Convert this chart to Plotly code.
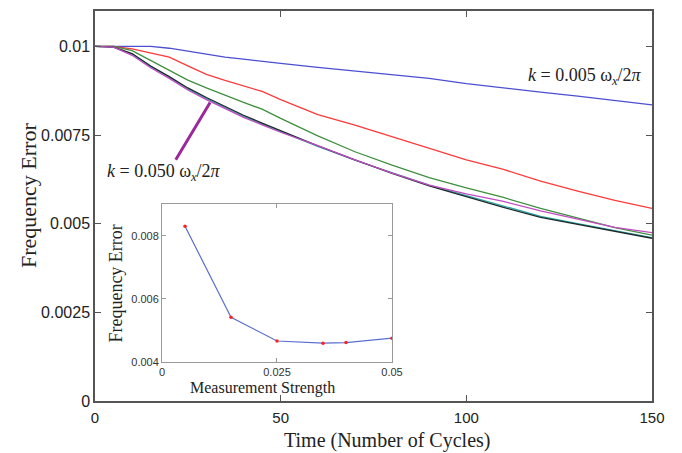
import plotly.graph_objects as go

t = [0, 5, 10, 15, 20, 25, 30, 35, 40, 45, 50, 60, 70, 80, 90, 100, 110, 120, 130, 140, 150]
blue = [0.01, 0.01, 0.01, 0.01, 0.00995, 0.00987, 0.00977, 0.0097, 0.00964, 0.00959, 0.00952, 0.00941, 0.00931, 0.0092, 0.0091, 0.00895, 0.00882, 0.00871, 0.0086, 0.00847, 0.00835]
red = [0.01, 0.01, 0.00993, 0.00982, 0.0097, 0.00945, 0.00921, 0.00904, 0.00888, 0.00873, 0.0085, 0.00808, 0.00778, 0.00746, 0.00714, 0.0068, 0.00653, 0.0062, 0.00592, 0.00566, 0.00543]
green = [0.01, 0.01, 0.00988, 0.0096, 0.00932, 0.00905, 0.00883, 0.00862, 0.00842, 0.00823, 0.00797, 0.00748, 0.00703, 0.00665, 0.0063, 0.00601, 0.00574, 0.00543, 0.00515, 0.00489, 0.00468]
magenta = [0.01, 0.00998, 0.00975, 0.0094, 0.0091, 0.00877, 0.0085, 0.00825, 0.008, 0.00779, 0.00758, 0.0072, 0.0068, 0.00643, 0.00609, 0.00584, 0.00563, 0.00536, 0.00512, 0.0049, 0.00475]
cyan = [0.01, 0.00998, 0.00978, 0.00943, 0.00913, 0.0088, 0.00853, 0.00827, 0.00803, 0.00781, 0.0076, 0.00718, 0.00679, 0.00643, 0.00609, 0.00579, 0.00549, 0.00521, 0.005, 0.0048, 0.00461]
black = [0.01, 0.00998, 0.0098, 0.00945, 0.00915, 0.00883, 0.00856, 0.0083, 0.00806, 0.00784, 0.00762, 0.0072, 0.0068, 0.00642, 0.00607, 0.00576, 0.00546, 0.00518, 0.00498, 0.00477, 0.00459]

strength = [0.005, 0.015, 0.025, 0.035, 0.04, 0.05]
final_err = [0.0083, 0.00542, 0.00467, 0.0046, 0.00462, 0.00476]

series = [
    (blue, "#4b4fd0"),
    (red, "#ff3a3a"),
    (green, "#3f8f3f"),
    (cyan, "#2aa7a7"),
    (black, "#1e2a2a"),
    (magenta, "#c24ac2"),
]

fig = go.Figure()
for vals, col in series:
    fig.add_trace(go.Scatter(x=t, y=vals, mode="lines", line=dict(color=col, width=1.3),
                             xaxis="x", yaxis="y", showlegend=False))

fig.add_trace(go.Scatter(x=strength, y=final_err, mode="lines+markers",
                         line=dict(color="#5a6fd0", width=1.2),
                         marker=dict(color="#ff2020", size=3.5),
                         xaxis="x2", yaxis="y2", showlegend=False))

serif = "Liberation Serif"
sans = "Liberation Sans"
frame = "#555555"
W, H = 682, 453
ML, MR, MT, MB = 95, 30, 9, 52
PW, PH = W - ML - MR, H - MT - MB


def px(x):
    return (x - ML) / PW


def py(y):
    return (H - MB - y) / PH


fig.update_layout(
    width=W, height=H,
    margin=dict(l=ML, r=MR, t=MT, b=MB),
    paper_bgcolor="white", plot_bgcolor="white",
    xaxis=dict(range=[0, 150], tickvals=[0, 50, 100, 150], ticks="inside", ticklen=6,
               showline=True, linecolor=frame, linewidth=1.5, mirror="ticks",
               tickcolor=frame, showgrid=False, zeroline=False, ticklabelstandoff=2,
               tickfont=dict(family=sans, size=15, color="#222")),
    yaxis=dict(range=[0, 0.011], tickvals=[0, 0.0025, 0.005, 0.0075, 0.01],
               ticktext=["0", "0.0025", "0.005", "0.0075", "0.01"],
               ticks="inside", ticklen=6,
               showline=True, linecolor=frame, linewidth=1.5, mirror="ticks",
               tickcolor=frame, showgrid=False, zeroline=False,
               tickfont=dict(family=sans, size=16, color="#222")),
    xaxis2=dict(domain=[0.1203, 0.5332], anchor="y2", range=[0, 0.05],
                tickvals=[0, 0.025, 0.05], ticktext=["0", "0.025", "0.05"],
                ticks="inside", ticklen=4, showline=True, linecolor="#999", linewidth=1,
                mirror="ticks", tickcolor="#999", showgrid=False, zeroline=False,
                ticklabelstandoff=0,
                tickfont=dict(family=sans, size=11, color="#333")),
    yaxis2=dict(domain=[0.0995, 0.505], anchor="x2", range=[0.004, 0.009],
                tickvals=[0.004, 0.006, 0.008], ticktext=["0.004", "0.006", "0.008"],
                ticks="inside", ticklen=4, showline=True, linecolor="#999", linewidth=1,
                mirror="ticks", tickcolor="#999", showgrid=False, zeroline=False,
                tickfont=dict(family=sans, size=11, color="#333")),
    annotations=[
        dict(x=132, y=0.00915, xref="x", yref="y", xanchor="center", yanchor="middle",
             text="<i>k</i> = 0.005 ω<sub><i>x</i></sub>/2<i>π</i>", showarrow=False,
             font=dict(family=serif, size=18, color="#222")),
        dict(x=31, y=0.00842, xref="x", yref="y", ax=21.5, ay=0.00676, axref="x", ayref="y",
             text="", showarrow=True, arrowhead=0, arrowwidth=3, arrowcolor="#9a2a9a"),
        dict(x=18.5, y=0.00645, xref="x", yref="y", xanchor="center", yanchor="middle",
             text="<i>k</i> = 0.050 ω<sub><i>x</i></sub>/2<i>π</i>", showarrow=False,
             font=dict(family=serif, size=18, color="#222")),
        # main axis titles
        dict(x=px(28), y=py(195), xref="paper", yref="paper", xanchor="center", yanchor="middle",
             text="Frequency Error", textangle=-90, showarrow=False,
             font=dict(family=serif, size=22, color="#222")),
        dict(x=px(387), y=py(441), xref="paper", yref="paper", xanchor="center", yanchor="middle",
             text="Time (Number of Cycles)", showarrow=False,
             font=dict(family=serif, size=20, color="#222")),
        # inset axis titles
        dict(x=px(262), y=py(388), xref="paper", yref="paper", xanchor="center", yanchor="middle",
             text="Measurement Strength", showarrow=False,
             font=dict(family=serif, size=16, color="#222")),
        dict(x=px(116), y=py(283), xref="paper", yref="paper", xanchor="center", yanchor="middle",
             text="Frequency Error", textangle=-90, showarrow=False,
             font=dict(family=serif, size=18, color="#222")),
    ],
)

fig.write_html("out.html")
